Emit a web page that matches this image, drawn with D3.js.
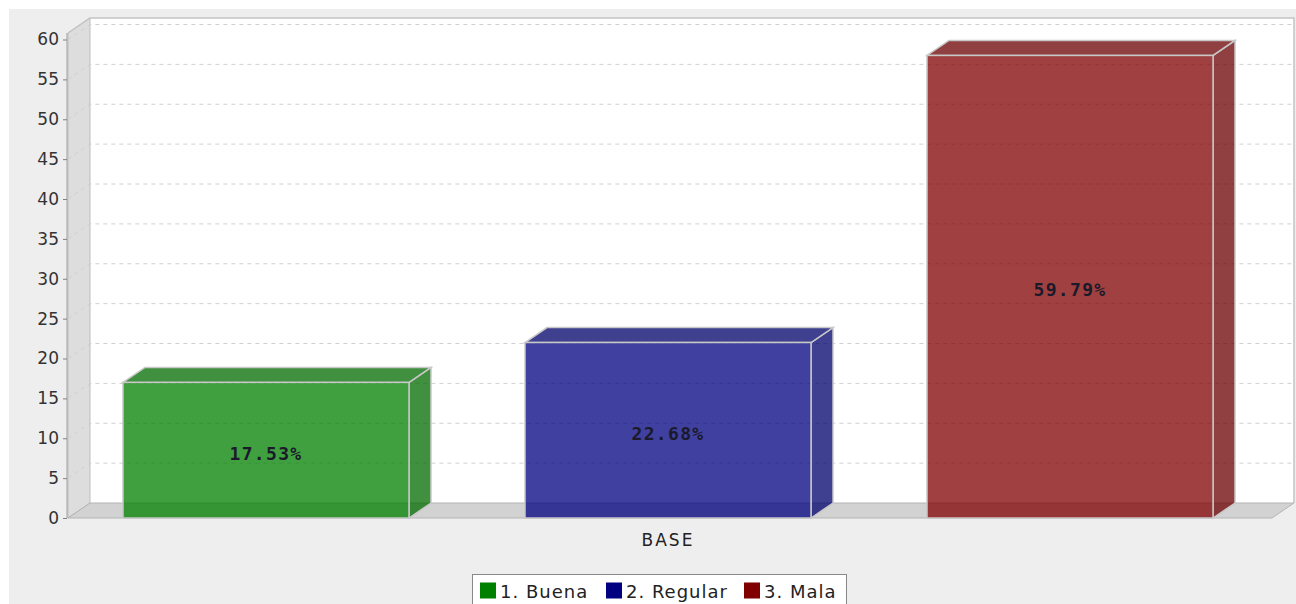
<!DOCTYPE html>
<html>
<head>
<meta charset="utf-8">
<script src="https://cdn.jsdelivr.net/npm/d3@7/dist/d3.min.js"></script>
<style>
  body { margin:0; background:#fff; }
  svg { display:block; font-family:"DejaVu Sans", sans-serif; }
</style>
</head>
<body>
<div id="chart"></div>
<script>
// data
const categories = ["BASE"];
const seriesNames = ["1. Buena", "2. Regular", "3. Mala"];
const seriesValues = [17, 22, 58];
const seriesColors = ["#008000", "#000080", "#800000"];
const yTicks = [0, 5, 10, 15, 20, 25, 30, 35, 40, 45, 50, 55, 60];

const W = 1296, H = 604;
// front plane of the plot, and the 3D depth offset
const plot = {left: 68, right: 1272, top: 39.5, bottom: 518};
const dx = 22, dy = 15;

const svg = d3.select("#chart").append("svg")
    .attr("width", W).attr("height", H);

// chart background
svg.append("rect").attr("x", 9).attr("y", 9).attr("width", W - 9).attr("height", H - 9)
   .attr("fill", "#eeeeee");

const y = d3.scaleLinear().domain([0, 60]).range([plot.bottom, plot.top]);
const x = d3.scaleBand().domain(seriesNames)
    .range([123, 1213]).paddingInner(0.2886).paddingOuter(0);

const total = d3.sum(seriesValues);
const pct = d3.format(".2f");

// back wall
svg.append("rect")
   .attr("x", plot.left + dx).attr("y", y(60) - dy - 6.5)
   .attr("width", plot.right - plot.left).attr("height", y(0) - y(60) + 6.5)
   .attr("fill", "#ffffff");

// left wall
svg.append("polygon")
   .attr("points", [[plot.left, y(60) - 6.5], [plot.left + dx, y(60) - dy - 6.5],
                    [plot.left + dx, y(0) - dy], [plot.left, y(0)]].join(" "))
   .attr("fill", "#dddddd").attr("stroke", "#bdbdbd").attr("stroke-width", 1);

// floor
svg.append("polygon")
   .attr("points", [[plot.left, y(0)], [plot.left + dx, y(0) - dy],
                    [plot.right + dx, y(0) - dy], [plot.right, y(0)]].join(" "))
   .attr("fill", "#d2d2d2").attr("stroke", "#b4b4b4").attr("stroke-width", 1);

// gridlines (wall diagonal + back wall)
svg.append("g").selectAll("path").data(yTicks.filter(d => d > 0)).enter()
   .append("path")
   .attr("d", d => `M${plot.left},${y(d)}L${plot.left + dx},${y(d) - dy}L${plot.right + dx},${y(d) - dy}`)
   .attr("fill", "none").attr("stroke", "#d0d0d0").attr("stroke-width", 1)
   .attr("stroke-dasharray", "4,4");

// plot outline
svg.append("path")
   .attr("d", `M${plot.left},${y(60) - 6.5}L${plot.left + dx},${y(60) - dy - 6.5}L${plot.right + dx},${y(60) - dy - 6.5}L${plot.right + dx},${y(0) - dy}`)
   .attr("fill", "none").attr("stroke", "#c4c4c4").attr("stroke-width", 1.5);

// bars
const data = seriesNames.map((s, i) => ({name: s, value: seriesValues[i], color: seriesColors[i]}));
const bars = svg.append("g").selectAll("g").data(data).enter().append("g");

bars.append("polygon") // side
   .attr("points", d => {
      const x1 = x(d.name) + x.bandwidth();
      return [[x1, y(d.value)], [x1 + dx, y(d.value) - dy], [x1 + dx, y(0) - dy], [x1, y(0)]].join(" ");
   })
   .attr("fill", d => d3.color(d.color).darker(0.5)).attr("fill-opacity", 0.75)
   .attr("stroke", "#c8c8c8").attr("stroke-width", 1.5);

bars.append("polygon") // top
   .attr("points", d => {
      const x0 = x(d.name), x1 = x0 + x.bandwidth();
      return [[x0, y(d.value)], [x0 + dx, y(d.value) - dy], [x1 + dx, y(d.value) - dy], [x1, y(d.value)]].join(" ");
   })
   .attr("fill", d => d3.color(d.color).darker(0.5)).attr("fill-opacity", 0.75)
   .attr("stroke", "#c8c8c8").attr("stroke-width", 1.5);

bars.append("rect") // front
   .attr("x", d => x(d.name)).attr("y", d => y(d.value))
   .attr("width", x.bandwidth()).attr("height", d => y(0) - y(d.value))
   .attr("fill", d => d.color).attr("fill-opacity", 0.75)
   .attr("stroke", "#c8c8c8").attr("stroke-width", 1.5);

bars.append("text")
   .attr("x", d => x(d.name) + x.bandwidth() / 2)
   .attr("y", d => (y(d.value) + y(0)) / 2 + 3)
   .attr("dy", "0.35em").attr("text-anchor", "middle")
   .attr("font-family", "'DejaVu Sans Mono', monospace").attr("font-weight", "bold")
   .attr("font-size", 18).attr("letter-spacing", 1.3).attr("fill", "#1a1a2a")
   .text(d => pct(d.value / total * 100) + "%");

// y axis
const yAxis = svg.append("g")
   .attr("transform", `translate(${plot.left - 1},0)`)
   .call(d3.axisLeft(y).tickValues(yTicks).tickSize(4).tickPadding(4));
yAxis.select(".domain").attr("stroke", "#a0a0a0").attr("d", `M0,${y(60) - 6.5}V${y(0)}`);
yAxis.selectAll(".tick line").attr("stroke", "#808080");
yAxis.selectAll(".tick text").attr("font-size", 17).attr("fill", "#333")
   .attr("font-family", "'DejaVu Sans', sans-serif");

// category label
svg.append("g").selectAll("text").data(categories).enter().append("text")
   .attr("x", 668).attr("y", 546).attr("text-anchor", "middle")
   .attr("font-size", 17).attr("letter-spacing", 2).attr("fill", "#222").text(d => d);

// legend
const legend = svg.append("g");
legend.append("rect").attr("x", 472.5).attr("y", 574.5).attr("width", 374).attr("height", 40)
   .attr("fill", "#ffffff").attr("stroke", "#888").attr("stroke-width", 1);
const legendX = [480, 606, 744];
const items = legend.selectAll("g").data(data).enter().append("g")
   .attr("transform", (d, i) => `translate(${legendX[i]},582.5)`);
items.append("rect").attr("width", 16).attr("height", 16).attr("fill", d => d.color);
items.append("text").attr("x", 20).attr("y", 15).attr("font-size", 18)
   .attr("letter-spacing", 1).attr("fill", "#222")
   .text(d => d.name);
</script>
</body>
</html>
